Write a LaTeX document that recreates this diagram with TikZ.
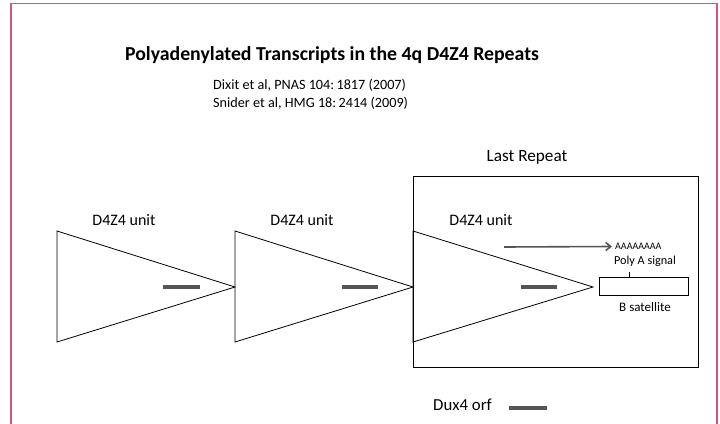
\documentclass[tikz,border=0pt]{standalone}
\usepackage{fontspec}
\setmainfont{Carlito}
\usetikzlibrary{arrows.meta}
\definecolor{framepink}{HTML}{D4557F}
\definecolor{bargray}{HTML}{555555}
\begin{document}
\begin{tikzpicture}[x=1pt,y=-1pt,
  unit/.style={draw=black,line width=0.8pt,line join=miter},
  orf/.style={draw=bargray,line width=3.5pt},
  lbl/.style={inner sep=0pt,font=\fontsize{16}{18}\selectfont}]
\useasboundingbox (0,0) rectangle (720,423);
\fill[white] (0,0) rectangle (720,423);
% frame
\draw[framepink,line width=1.5pt] (11,430) -- (11,3.5) -- (717,3.5) -- (717,430);
% title and refs
\node[inner sep=0pt,font=\fontsize{19.8}{22}\selectfont\bfseries] (title) at (332,55) {Polyadenylated Transcripts in the 4q D4Z4 Repeats};
\node[inner sep=0pt,anchor=west,font=\fontsize{14.2}{17}\selectfont,align=left] (ref1) at (213,85) {Dixit et al, PNAS 104:\,1817 (2007)};
\node[inner sep=0pt,anchor=west,font=\fontsize{14.2}{17}\selectfont,align=left] (ref2) at (213,103) {Snider et al, HMG 18:\,2414 (2009)};
% last repeat box
\draw[black,line width=0.8pt] (413,176) rectangle (698,367);
\node[lbl,font=\fontsize{17.2}{19}\selectfont] (lastrep) at (527,157) {Last Repeat};
% triangles
\draw[unit] (57,231) -- (235,287) -- (57,342) -- cycle;
\draw[unit] (235,231) -- (413,287) -- (235,342) -- cycle;
\draw[unit] (413,231) -- (593,287) -- (413,342) -- cycle;
\node[lbl] (u1) at (124,220) {D4Z4 unit};
\node[lbl] (u2) at (302,220) {D4Z4 unit};
\node[lbl] (u3) at (481,220) {D4Z4 unit};
% orf bars
\coordinate (o1a) at (163,287); \coordinate (o1b) at (200,287);
\coordinate (o2a) at (342,287); \coordinate (o2b) at (378,287);
\coordinate (o3a) at (521,287); \coordinate (o3b) at (557,287);
\draw[orf] (o1a) -- (o1b);
\draw[orf] (o2a) -- (o2b);
\draw[orf] (o3a) -- (o3b);
% transcript arrow
\node[inner sep=0pt,anchor=west,font=\fontsize{10}{12}\selectfont] (polyA) at (615,246.5) {AAAAAAAA};
\coordinate (arrs) at (504,247);
\draw[bargray,line width=1.6pt,-{Straight Barb[length=5pt,width=8pt]}] (arrs) -- ([xshift=-3pt]polyA.west);
\node[inner sep=0pt,font=\fontsize{12.2}{14}\selectfont] (sig) at (645,261) {Poly A signal};
\node[draw=black,line width=0.8pt,minimum width=89pt,minimum height=18pt,inner sep=0pt] (bsat) at (643.5,286) {};
\draw[black,line width=0.6pt] (bsat.north -| 629,0) -- ++(0,-5);
\node[inner sep=0pt,font=\fontsize{13}{15}\selectfont] (bsatl) at (645,307) {B satellite};
% legend
\node[lbl,anchor=west,font=\fontsize{16.8}{19}\selectfont] (dux) at (433,405) {Dux4 orf};
\coordinate (la) at (509,408); \coordinate (lb) at (547,408);
\draw[orf] (la) -- (lb);
\end{tikzpicture}
\end{document}
